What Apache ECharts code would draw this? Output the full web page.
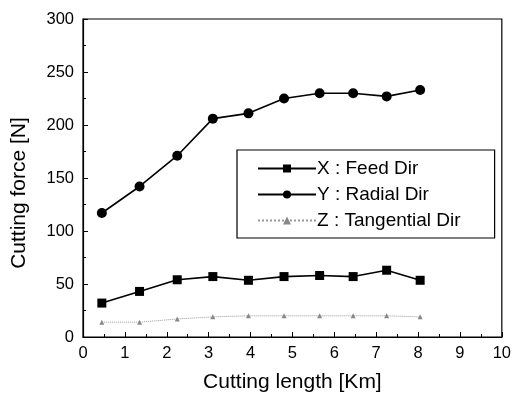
<!DOCTYPE html>
<html>
<head>
<meta charset="utf-8">
<script src="https://cdn.jsdelivr.net/npm/echarts@6/dist/echarts.min.js"></script>
<style>html,body{margin:0;padding:0;background:#fff}#c{width:514px;height:402px}</style>
</head>
<body>
<div id="c"></div>
<script>
var lengths = [0.45, 1.35, 2.25, 3.1, 3.95, 4.8, 5.65, 6.45, 7.25, 8.05];
var feedX = [32, 43, 54, 57, 53.5, 57, 58, 57, 63, 53.5];
var radialY = [117, 142, 171, 206, 211, 225, 230, 230, 227, 233];
var tangentialZ = [14, 14, 17, 19, 20, 20, 20, 20, 20, 19];
var seriesNames = ['X : Feed Dir', 'Y : Radial Dir', 'Z : Tangential Dir'];

function pairs(vals){ return lengths.map(function(x,i){ return [x, vals[i]]; }); }
var font = 'Liberation Sans, Arial, sans-serif';
var chart = echarts.init(document.getElementById('c'));
chart.setOption({
  animation: false,
  backgroundColor: '#fff',
  grid: { left: 83, right: 12, top: 19, bottom: 65, show: true, borderColor: '#000', borderWidth: 1.2, backgroundColor: 'transparent' },
  xAxis: {
    type: 'value', min: 0, max: 10, interval: 1,
    name: 'Cutting length [Km]', nameLocation: 'middle', nameGap: 35,
    nameTextStyle: { fontFamily: font, fontSize: 21, color: '#000' },
    axisLine: { show: true, lineStyle: { color: '#000', width: 1.2 } },
    axisTick: { show: true, inside: true, length: 5, lineStyle: { color: '#000' } },
    minorTick: { show: true, splitNumber: 2, length: 3, lineStyle: { color: '#000' } },
    splitLine: { show: false },
    axisLabel: { fontFamily: font, fontSize: 16.5, color: '#000', margin: 8 }
  },
  yAxis: {
    type: 'value', min: 0, max: 300, interval: 50,
    name: 'Cutting force [N]', nameLocation: 'middle', nameGap: 53,
    nameTextStyle: { fontFamily: font, fontSize: 21, color: '#000', padding: [0, 30, 0, 0] },
    axisLine: { show: true, lineStyle: { color: '#000', width: 1.2 } },
    axisTick: { show: true, inside: true, length: 5, lineStyle: { color: '#000' } },
    minorTick: { show: true, splitNumber: 2, length: 3, lineStyle: { color: '#000' } },
    splitLine: { show: false },
    axisLabel: { fontFamily: font, fontSize: 16.5, color: '#000', margin: 9 }
  },
  legend: {
    orient: 'vertical', left: 237, top: 150,
    data: seriesNames,
    itemWidth: 58, itemHeight: 10, itemGap: 7,
    padding: [9, 34, 8, 20],
    borderColor: '#000', borderWidth: 1.2,
    textStyle: { fontFamily: font, fontSize: 19, color: '#000', padding: [0,0,0,-4] }
  },
  series: [
    { name: seriesNames[0], type: 'line', data: pairs(feedX), symbol: 'rect', symbolSize: 9,
      lineStyle: { color: '#000', width: 1.6 }, itemStyle: { color: '#000' } },
    { name: seriesNames[1], type: 'line', data: pairs(radialY), symbol: 'circle', symbolSize: 10,
      lineStyle: { color: '#000', width: 1.6 }, itemStyle: { color: '#000' } },
    { name: seriesNames[2], type: 'line', data: pairs(tangentialZ), symbol: 'triangle', symbolSize: 5,
      lineStyle: { color: '#999', width: 1, type: 'dotted' }, itemStyle: { color: '#888' } }
  ]
});
</script>
</body>
</html>
